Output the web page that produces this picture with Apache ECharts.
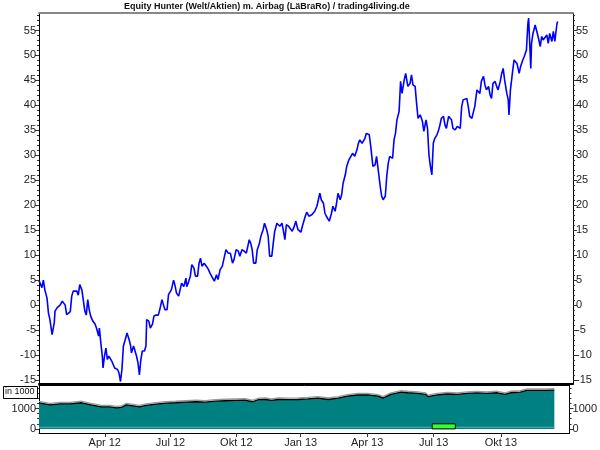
<!DOCTYPE html>
<html>
<head>
<meta charset="utf-8">
<script src="https://cdn.jsdelivr.net/npm/echarts@6/dist/echarts.min.js"></script>
<style>html,body{margin:0;padding:0;background:#fff}#chart{width:600px;height:450px}</style>
</head>
<body>
<div id="chart"></div>
<script>
// ---- data (x = days since 2012-01-01) ----
const chartTitle = 'Equity Hunter (Welt/Aktien) m. Airbag (LäBraRo) / trading4living.de';
const quarterDays = [91, 182, 273, 362, 454, 546, 639];
const quarterLabels = ['Apr 12', 'Jul 12', 'Okt 12', 'Jan 13', 'Apr 13', 'Jul 13', 'Okt 13'];
const equityTicks = [-15, -10, -5, 0, 5, 10, 15, 20, 25, 30, 35, 40, 45, 50, 55];
const exposureTicks = [0, 1000];
const equity = [
[0,4.9],[1,5.0],[4,3.5],[6,5.0],[8,3.1],[11,1.4],[13,-1.6],[15,-2.9],[18,-5.9],[21,-3.5],[22,-1.2],[25,-0.5],[29,0],[32,0.8],[36,0],[38,-1.9],[40,-2.2],[43,-1.3],[45,1.8],[47,2.8],[52,2.8],[54,2.0],[56,4.1],[59,3.0],[61,3.0],[63,-1.2],[65,-2.0],[67,1.1],[69,-0.9],[71,-2.2],[74,-3.2],[77,-3.8],[79,-4.6],[82,-6.2],[83,-4.6],[85,-7.6],[87,-10.2],[88,-12.6],[90,-10.2],[92,-8.6],[94,-10.9],[96,-10.2],[100,-11.2],[102,-11.9],[104,-12.6],[108,-12.9],[110,-13.6],[112,-15.3],[114,-12.9],[116,-8.2],[118,-7.2],[121,-5.6],[124,-7.0],[126,-8.2],[127,-9.6],[130,-8.2],[132,-9.2],[134,-10.2],[136,-11.5],[138,-14.0],[140,-10.9],[142,-9.2],[145,-9.2],[147,-8.2],[148,-2.9],[151,-3.2],[153,-4.6],[156,-3.8],[158,-2.2],[161,-2.0],[164,-2.0],[166,-0.9],[169,1.1],[171,1.1],[173,-0.9],[176,-0.9],[178,2.1],[180,1.8],[182,3.1],[185,5.0],[187,3.9],[189,2.4],[192,1.8],[196,4.4],[199,3.7],[202,5.4],[203,3.7],[205,4.4],[208,5.8],[210,8.1],[213,7.4],[215,5.8],[218,5.8],[220,8.4],[222,9.4],[224,7.8],[227,8.4],[230,7.8],[233,7.1],[235,6.4],[237,6.1],[241,4.8],[244,6.1],[246,5.1],[249,7.1],[252,7.8],[255,9.8],[257,11.1],[260,10.4],[263,10.4],[266,8.4],[268,9.1],[271,11.1],[274,10.8],[276,9.8],[279,11.1],[282,10.8],[285,10.4],[289,13.1],[291,12.4],[293,11.1],[295,8.4],[298,8.4],[300,11.1],[303,12.4],[305,13.8],[308,15.1],[310,16.4],[313,15.1],[315,13.8],[317,9.8],[320,9.8],[322,12.4],[324,14.8],[327,16.4],[329,16.8],[331,15.8],[334,16.4],[336,14.8],[338,13.1],[340,16.1],[343,15.8],[345,16.1],[348,14.8],[350,15.4],[353,16.8],[356,15.1],[360,14.6],[362,15.8],[366,17.8],[368,18.6],[371,17.8],[375,18.1],[379,18.8],[382,19.8],[386,22.4],[388,21.1],[391,20.4],[393,18.4],[395,17.8],[399,16.8],[402,18.4],[404,19.8],[407,18.8],[409,20.4],[411,22.4],[414,21.1],[416,22.1],[418,24.4],[421,26.1],[423,27.8],[426,29.1],[428,29.4],[431,30.4],[434,29.8],[437,31.1],[439,32.4],[441,33.1],[444,32.4],[448,33.4],[450,34.4],[454,34.1],[456,31.8],[458,29.1],[459,27.8],[462,28.1],[464,29.8],[466,29.4],[469,23.8],[471,21.8],[473,21.1],[476,21.8],[478,25.8],[480,28.4],[482,29.8],[486,29.4],[488,33.1],[490,34.4],[492,37.1],[495,38.8],[497,44.8],[499,42.4],[502,45.1],[504,46.4],[507,43.8],[510,44.4],[512,46.1],[514,44.1],[517,43.8],[519,40.4],[521,37.4],[524,38.1],[527,36.8],[529,34.8],[532,37.1],[534,35.4],[536,30.1],[538,27.8],[540,26.1],[542,32.4],[544,33.4],[547,34.1],[549,34.9],[551,36.0],[553,37.4],[556,37.8],[558,36.1],[560,35.4],[563,37.8],[565,38.1],[567,37.1],[569,35.4],[572,35.1],[575,35.8],[579,35.4],[581,39.8],[583,41.1],[585,41.4],[588,41.4],[590,39.8],[592,37.8],[595,37.4],[597,37.8],[599,39.8],[602,43.1],[604,43.4],[606,42.4],[608,44.8],[611,45.8],[613,44.1],[615,43.1],[618,43.8],[620,42.1],[622,41.4],[624,44.4],[627,44.8],[629,43.8],[631,43.1],[634,44.8],[636,46.4],[638,47.4],[640,45.1],[643,42.4],[645,41.1],[646,38.1],[648,43.1],[651,46.8],[653,49.1],[655,49.1],[657,48.4],[660,46.4],[662,47.8],[665,49.1],[667,49.8],[670,51.1],[672,56.4],[673,57.5],[676,47.4],[677,52.4],[679,54.4],[682,56.1],[684,56.1],[686,53.8],[689,51.8],[691,53.8],[693,53.1],[695,53.4],[698,54.1],[700,52.4],[702,54.4],[705,52.8],[707,54.8],[709,52.8],[712,56.4],[713,56.8]
];
const exposure = [
[0,1280],[15,1180],[29,1230],[43,1230],[59,1280],[72,1180],[86,1080],[98,1080],[107,1030],[114,1050],[121,1180],[130,1130],[139,1080],[148,1150],[162,1210],[176,1260],[189,1280],[203,1310],[217,1330],[230,1310],[244,1360],[258,1380],[272,1400],[285,1410],[295,1330],[304,1430],[313,1440],[322,1400],[331,1440],[345,1430],[359,1440],[372,1470],[386,1510],[400,1440],[414,1510],[427,1610],[441,1660],[455,1670],[469,1610],[476,1510],[487,1690],[501,1800],[510,1770],[524,1740],[535,1690],[538,1580],[551,1670],[565,1710],[579,1690],[592,1740],[606,1760],[620,1740],[634,1770],[645,1690],[652,1770],[666,1800],[675,1890],[688,1890],[702,1890],[713,1900]
];
const baseLevel = [[0,80],[713,80]];
const signals = [[544, 576, 250]]; // [start day, end day, level]

// ---- chart ----
const FONT = "'Liberation Sans', Arial, sans-serif";
const NARROW = "'Liberation Sans Narrow', 'Liberation Sans', Arial, sans-serif";
const XMIN = 0, XMAX = 734;
const Y1MIN = -15.8, Y1MAX = 58.5;
const Y2MIN = -200, Y2MAX = 2150;
const minorEq = []; for (let v = -15; v <= 58; v++) if (v % 5 !== 0) minorEq.push(v);
const minorEx = [250, 500, 750, 1250, 1500, 1750, 2000];

const lbl = { color: '#222', fontSize: 11, fontFamily: FONT };
function yAx(grid, pos, min, max, ticks, labels, len, showLine) {
  return {
    type: 'value', gridIndex: grid, position: pos, min: min, max: max,
    axisLine: { show: showLine, onZero: false, lineStyle: { color: '#000', width: 1 } },
    axisTick: { show: true, length: len, customValues: ticks, lineStyle: { color: '#333' } },
    axisLabel: labels ? Object.assign({ show: true, margin: 3, customValues: ticks, formatter: v => String(v) }, lbl) : { show: false },
    splitLine: { show: false }
  };
}
const chart = echarts.init(document.getElementById('chart'), null, { renderer: 'canvas' });
chart.setOption({
  animation: false,
  backgroundColor: '#fff',
  title: {
    text: chartTitle, left: 124, top: 2, padding: 0,
    textStyle: { fontSize: 9, fontWeight: 'bold', fontFamily: NARROW, color: '#111' }
  },
  grid: [
    { left: 39, top: 13, width: 534, height: 371 },
    { left: 39, top: 385, width: 534, height: 48 }
  ],
  xAxis: [
    { type: 'value', gridIndex: 0, min: XMIN, max: XMAX, position: 'bottom',
      axisLine: { onZero: false, lineStyle: { color: '#000', width: 2 } }, axisTick: { show: false }, axisLabel: { show: false }, splitLine: { show: false } },
    { type: 'value', gridIndex: 0, min: XMIN, max: XMAX, position: 'top',
      axisLine: { onZero: false, lineStyle: { color: '#888', width: 2 } }, axisTick: { show: false }, axisLabel: { show: false }, splitLine: { show: false } },
    { type: 'value', gridIndex: 1, min: XMIN, max: XMAX, position: 'bottom',
      axisLine: { onZero: false, lineStyle: { color: '#000', width: 1 } },
      axisTick: { show: true, length: 4, customValues: quarterDays, lineStyle: { color: '#333' } },
      axisLabel: Object.assign({ show: true, margin: 4, customValues: quarterDays,
        formatter: v => { const i = quarterDays.indexOf(Math.round(v)); return i >= 0 ? quarterLabels[i] : ''; } }, lbl),
      splitLine: { show: false } },
    { type: 'value', gridIndex: 1, min: XMIN, max: XMAX, position: 'top',
      axisLine: { onZero: false, lineStyle: { color: '#000', width: 1 } }, axisTick: { show: false }, axisLabel: { show: false }, splitLine: { show: false } }
  ],
  yAxis: [
    yAx(0, 'left', Y1MIN, Y1MAX, equityTicks, true, 4, true),
    yAx(0, 'left', Y1MIN, Y1MAX, minorEq, false, 2, false),
    yAx(0, 'right', Y1MIN, Y1MAX, equityTicks, true, 4, true),
    yAx(0, 'right', Y1MIN, Y1MAX, minorEq, false, 2, false),
    yAx(1, 'left', Y2MIN, Y2MAX, exposureTicks, true, 4, true),
    yAx(1, 'left', Y2MIN, Y2MAX, minorEx, false, 2, false),
    yAx(1, 'right', Y2MIN, Y2MAX, exposureTicks, true, 4, true),
    yAx(1, 'right', Y2MIN, Y2MAX, minorEx, false, 2, false)
  ],
  series: [
    { type: 'line', name: 'Equity', xAxisIndex: 0, yAxisIndex: 0, data: equity, symbol: 'none',
      lineStyle: { color: '#0000ff', width: 1.6 }, z: 5 },
    { type: 'line', name: 'Exposure', xAxisIndex: 2, yAxisIndex: 4, data: exposure, symbol: 'none',
      lineStyle: { color: '#000', width: 1.3, shadowColor: '#9a9a9a', shadowOffsetY: -1.5, shadowBlur: 0 },
      areaStyle: { color: '#008080', opacity: 1 }, z: 2 },
    { type: 'line', name: 'Base', xAxisIndex: 2, yAxisIndex: 4, data: baseLevel, symbol: 'none',
      lineStyle: { color: '#5fb3b3', width: 1 }, z: 3 },
    { type: 'custom', name: 'Signal', xAxisIndex: 2, yAxisIndex: 4, data: signals, z: 10,
      renderItem: (params, api) => {
        const p0 = api.coord([api.value(0), 0]);
        const p1 = api.coord([api.value(1), api.value(2)]);
        return { type: 'rect', shape: { x: p0[0], y: p1[1], width: p1[0] - p0[0], height: p0[1] - p1[1] },
          style: { fill: '#33ff33', stroke: '#000', lineWidth: 1 } };
      } }
  ],
  graphic: [
    { type: 'rect', left: 3, top: 386, shape: { width: 34, height: 12 }, style: { fill: '#fff', stroke: '#000', lineWidth: 1 }, z: 10 },
    { type: 'text', left: 5, top: 387.5, style: { text: 'in 1000', font: "9px " + NARROW, fill: '#111' }, z: 11 }
  ]
});
</script>
</body>
</html>
